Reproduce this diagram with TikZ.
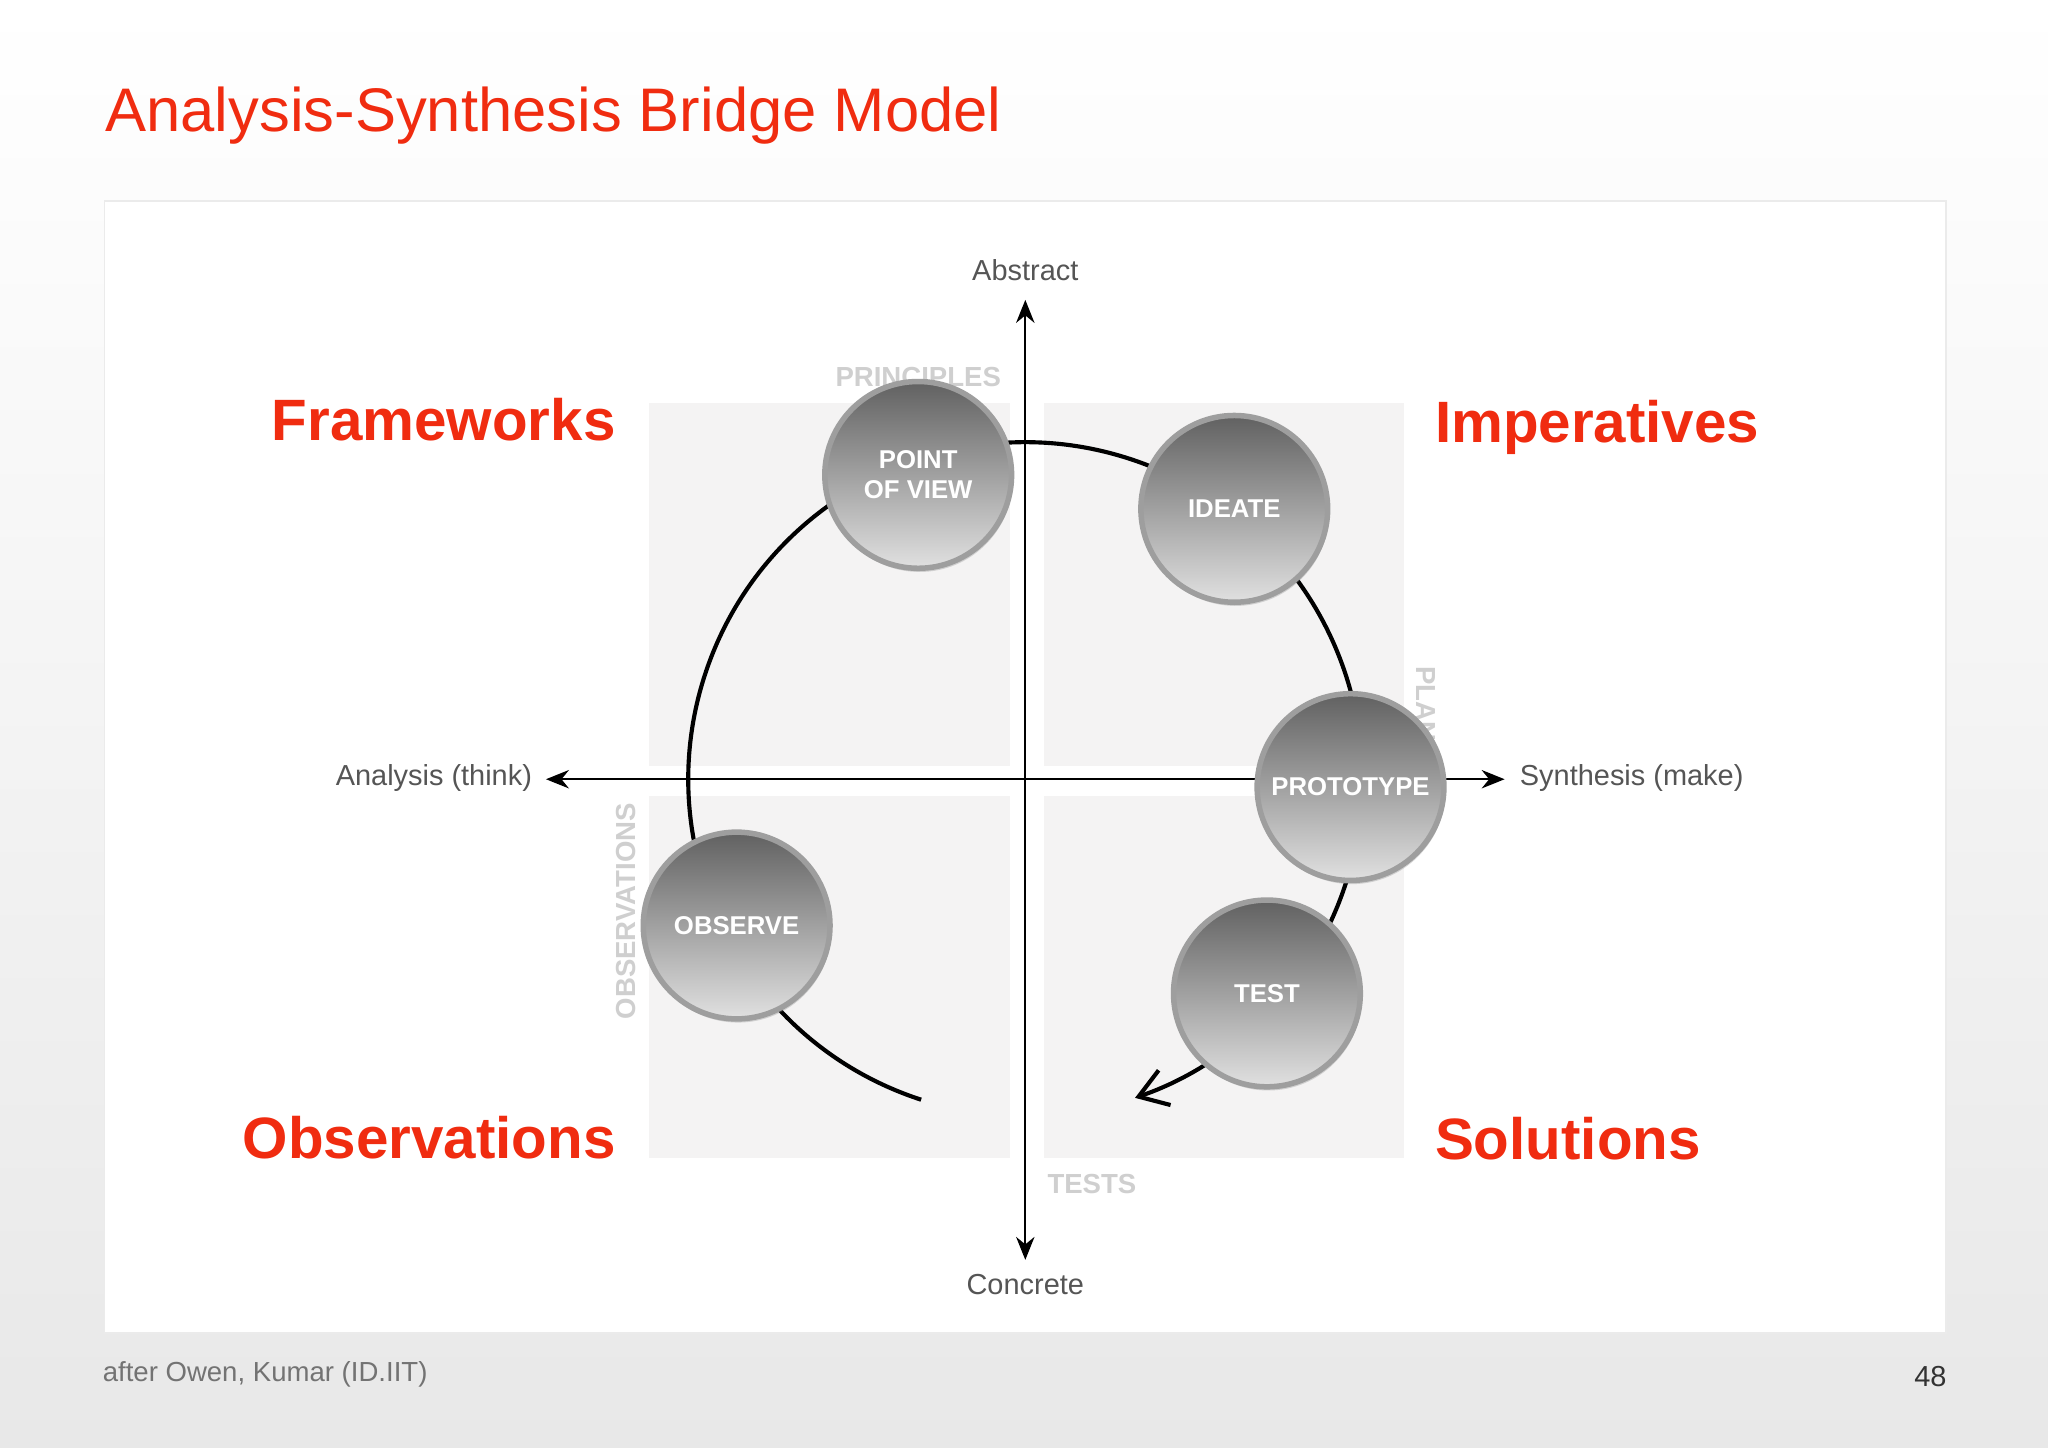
\documentclass[tikz,border=0pt]{standalone}
\usepackage{fontspec}
\setmainfont{Liberation Sans}
\usetikzlibrary{arrows.meta,shadows,calc}
\definecolor{hred}{HTML}{F02C10}
\definecolor{quad}{HTML}{F4F3F3}
\definecolor{axgray}{HTML}{555555}
\definecolor{faded}{HTML}{CFCFCF}
\tikzset{
  quadbox/.style={fill=quad,draw=none},
  bigred/.style={text=hred,font=\fontsize{12.7}{14}\selectfont\bfseries,inner sep=0},
  axlabel/.style={text=axgray,font=\fontsize{6.3}{7}\selectfont,inner sep=0},
  fadelabel/.style={text=faded,font=\fontsize{6}{7}\selectfont\bfseries,inner sep=0},
  stage/.style={circle,minimum size=143*0.01cm,inner sep=0,draw=black!38,line width=1.2pt,
    top color=black!62,bottom color=black!12,text=white,align=center,
    font=\fontsize{5.6}{6.6}\selectfont\bfseries,
    drop shadow={shadow xshift=0.3pt,shadow yshift=-0.8pt,opacity=0.3}},
}
\begin{document}
\begin{tikzpicture}[x=0.01cm,y=0.01cm]
\useasboundingbox (0,0) rectangle (1568,1108.6);
\shade[top color=white,bottom color=black!9] (0,0) rectangle (1568,1108.6);
\node[anchor=base west,text=hred,font=\fontsize{13.4}{15}\selectfont,inner sep=0] (title) at (80,1109-101) {Analysis-Synthesis Bridge Model};
\draw[fill=white,draw=black!8] (80,1109-154) rectangle (1490,1109-1021);
% quadrants
\fill[quadbox] (497,1109-309) rectangle (773,1109-587);
\fill[quadbox] (799,1109-309) rectangle (1075,1109-587);
\fill[quadbox] (497,1109-610) rectangle (773,1109-887);
\fill[quadbox] (799,1109-610) rectangle (1075,1109-887);
% faded labels
\node[fadelabel] (prin) at (703,1109-289) {PRINCIPLES};
\node[fadelabel,rotate=-90,anchor=west] (plans) at (1092,1109-510) {PLANS};
\node[fadelabel,rotate=90] (obsl) at (479,1109-698) {OBSERVATIONS};
\node[fadelabel] (tests) at (836,1109-907) {TESTS};
% axes
\coordinate (top) at (785,1109-230);
\coordinate (bot) at (785,1109-965);
\coordinate (lft) at (418,1109-597);
\coordinate (rgt) at (1152,1109-597);
\draw[{Stealth[length=5pt,width=4pt]}-{Stealth[length=5pt,width=4pt]},line width=0.5pt] (top) -- (bot);
\draw[{Stealth[length=5pt,width=4pt]}-{Stealth[length=5pt,width=4pt]},line width=0.5pt] (lft) -- (rgt);
\node[axlabel] (abs) at (785,1109-207) {Abstract};
\node[axlabel] (con) at (785,1109-984) {Concrete};
\node[axlabel,anchor=east] (ana) at (408,1109-596) {Analysis (think)};
\node[axlabel,anchor=west] (syn) at (1163,1109-596) {Synthesis (make)};
% cycle arc
\coordinate (arcstart) at ($(785,512)+(252:258)$);
\draw[line width=0.9pt,-{Straight Barb[length=6pt,width=8pt]}] (arcstart) arc[start angle=252,end angle=-71,radius=258];
% stages
\node[stage] (pov) at (703,1109-364) {POINT\\OF VIEW};
\node[stage] (ide) at (945,1109-390) {IDEATE};
\node[stage] (pro) at (1034,1109-603) {PROTOTYPE};
\node[stage] (obs) at (564,1109-709) {OBSERVE};
\node[stage] (tst) at (970,1109-761) {TEST};
% quadrant titles
\node[bigred,anchor=base east] (fw) at (472,1109-338) {Frameworks};
\node[bigred,anchor=base west] (imp) at (1098,1109-339) {Imperatives};
\node[bigred,anchor=base east] (ob) at (472,1109-887) {Observations};
\node[bigred,anchor=base west] (sol) at (1098,1109-888) {Solutions};
% footer
\node[anchor=base west,text=black!55,font=\fontsize{6}{7}\selectfont,inner sep=0] (foot) at (78,1109-1058) {after Owen, Kumar (ID.IIT)};
\node[anchor=base east,text=black!80,font=\fontsize{6.3}{7}\selectfont,inner sep=0] (pg) at (1491,1109-1062) {48};
\end{tikzpicture}
\end{document}
